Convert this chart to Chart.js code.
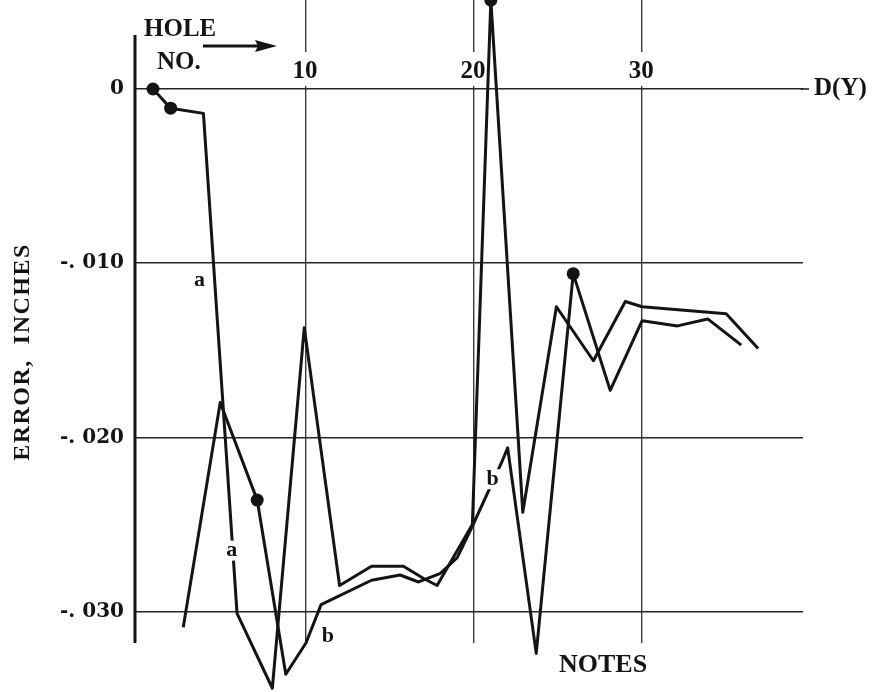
<!DOCTYPE html>
<html>
<head>
<meta charset="utf-8">
<script src="https://cdn.jsdelivr.net/npm/chart.js@4.4.1/dist/chart.umd.min.js"></script>
<style>
html,body{margin:0;padding:0;background:#fff;}
#wrap{width:872px;height:692px;position:relative;}
</style>
</head>
<body>
<div id="wrap"><canvas id="c" width="872" height="692"></canvas></div>
<script>
// ---- data ----
const holesA = [0.9, 1.95, 3.9, 5.9, 8.0, 9.9, 12.0, 13.9, 15.8, 17.0, 17.8, 19.9, 21.0, 22.9, 24.9, 27.1, 29.0, 30.0, 35.0, 36.9];
const errorA = [0, -0.0011, -0.0014, -0.0301, -0.0344, -0.0137, -0.0285, -0.0274, -0.0274, -0.0281, -0.0285, -0.0250, 0.0051, -0.0243, -0.0125, -0.0156, -0.0122, -0.0125, -0.0129, -0.0149];
const holesB = [2.7, 4.9, 7.1, 8.8, 10.0, 10.9, 13.9, 15.6, 16.7, 18.0, 19.0, 19.9, 21.7, 22.0, 23.7, 25.9, 28.1, 30.0, 32.1, 33.9, 35.9];
const errorB = [-0.0309, -0.0180, -0.0236, -0.0336, -0.0318, -0.0296, -0.0282, -0.0279, -0.0283, -0.0278, -0.0269, -0.0251, -0.0213, -0.0206, -0.0324, -0.0106, -0.0173, -0.0133, -0.0136, -0.0132, -0.0147];
const markedA = [0, 1, 12];
const markedB = [2, 15];
const xTicks = [10, 20, 30];
const xTickLabels = ['10', '20', '30'];
const yTicks = [0, -0.010, -0.020, -0.030];
const yTickLabels = ['0', '-. 010', '-. 020', '-. 030'];
const curveLabels = [
  {text: 'a', x: 3.67, y: -0.0110},
  {text: 'a', x: 5.58, y: -0.0265},
  {text: 'b', x: 11.3, y: -0.0314},
  {text: 'b', x: 21.1, y: -0.0224}
];

const INK = '#141414';
const SERIF_B = 'bold 25px "Liberation Serif", "DejaVu Serif", serif';

const decor = {
  id: 'decor',
  beforeDatasetsDraw(chart) {
    const ctx = chart.ctx, xs = chart.scales.x, ys = chart.scales.y, ca = chart.chartArea;
    ctx.save();
    // y axis line
    ctx.strokeStyle = INK; ctx.lineWidth = 3;
    ctx.beginPath();
    ctx.moveTo(ca.left + 1, ys.getPixelForValue(0.0031));
    ctx.lineTo(ca.left + 1, ca.bottom);
    ctx.stroke();
    // extend zero line to the D(Y) label
    const y0 = ys.getPixelForValue(0);
    ctx.lineWidth = 1.5;
    ctx.beginPath(); ctx.moveTo(ca.right - 2, y0); ctx.lineTo(ca.right + 6, y0); ctx.stroke();
    // x tick labels above the zero line, gridline broken behind them
    ctx.font = SERIF_B; ctx.fillStyle = INK; ctx.textAlign = 'center'; ctx.textBaseline = 'middle';
    xTicks.forEach((v, i) => {
      const px = xs.getPixelForValue(v);
      ctx.fillStyle = '#fff';
      ctx.fillRect(px - 4, 52, 8, 34);
      ctx.fillStyle = INK;
      ctx.fillText(xTickLabels[i], px - 1, 72);
    });
    // HOLE NO. with arrow
    ctx.textAlign = 'left';
    ctx.fillText('HOLE', 144, 30);
    ctx.fillText('NO.', 157, 63);
    ctx.lineWidth = 3;
    ctx.beginPath(); ctx.moveTo(203, 46); ctx.lineTo(262, 46); ctx.stroke();
    ctx.beginPath(); ctx.moveTo(277, 46); ctx.lineTo(255, 40); ctx.lineTo(258, 46); ctx.lineTo(255, 52); ctx.closePath(); ctx.fill();
    // D(Y) and NOTES
    ctx.fillText('D(Y)', 814, 89);
    ctx.font = 'bold 26px "Liberation Serif", "DejaVu Serif", serif';
    ctx.fillText('NOTES', 559, 665);
    // y title
    ctx.save();
    ctx.translate(23, 352);
    ctx.rotate(-Math.PI / 2);
    ctx.textAlign = 'center';
    ctx.font = 'bold 24px "Liberation Serif", "DejaVu Serif", serif';
    try { ctx.letterSpacing = '1.5px'; } catch (e) {}
    ctx.fillText('ERROR,  INCHES', 0, 0);
    ctx.restore();
    ctx.restore();
  },
  afterDatasetsDraw(chart) {
    const ctx = chart.ctx, xs = chart.scales.x, ys = chart.scales.y;
    ctx.save();
    ctx.font = 'bold 22px "Liberation Serif", "DejaVu Serif", serif';
    ctx.textAlign = 'center'; ctx.textBaseline = 'middle';
    curveLabels.forEach(l => {
      const px = xs.getPixelForValue(l.x), py = ys.getPixelForValue(l.y);
      const w = ctx.measureText(l.text).width;
      ctx.fillStyle = '#fff';
      ctx.fillRect(px - w / 2 - 2, py - 10, w + 4, 20);
      ctx.fillStyle = INK;
      ctx.fillText(l.text, px, py);
    });
    ctx.restore();
  }
};

function series(xs, ys) { return xs.map((x, i) => ({x: x, y: ys[i]})); }

new Chart(document.getElementById('c'), {
  type: 'line',
  data: {
    datasets: [
      {
        label: 'a',
        data: series(holesA, errorA),
        borderColor: INK, borderWidth: 3, tension: 0, clip: false, borderJoinStyle: 'round',
        pointRadius: c => markedA.includes(c.dataIndex) ? 6.5 : 0,
        pointBackgroundColor: INK, pointBorderWidth: 0, pointHoverRadius: 0
      },
      {
        label: 'b',
        data: series(holesB, errorB),
        borderColor: INK, borderWidth: 3, tension: 0, clip: false, borderJoinStyle: 'round',
        pointRadius: c => markedB.includes(c.dataIndex) ? 6.5 : 0,
        pointBackgroundColor: INK, pointBorderWidth: 0, pointHoverRadius: 0
      }
    ]
  },
  options: {
    responsive: false,
    animation: false,
    events: [],
    layout: {padding: {left: 0, right: 69, top: 0, bottom: 49}, autoPadding: false},
    plugins: {legend: {display: false}, tooltip: {enabled: false}},
    scales: {
      x: {
        type: 'linear', min: -0.23, max: 39.57,
        afterBuildTicks: s => { s.ticks = xTicks.map(v => ({value: v})); },
        afterFit: s => { s.height = 0; s.paddingLeft = 0; s.paddingRight = 0; },
        ticks: {display: false},
        grid: {color: '#3a3a3a', lineWidth: 1.4, drawTicks: false},
        border: {display: false}
      },
      y: {
        type: 'linear', min: -0.031803, max: 0.005109,
        afterBuildTicks: s => { s.ticks = yTicks.map(v => ({value: v})); },
        afterFit: s => { s.width = 134; s.paddingTop = 0; s.paddingBottom = 0; },
        ticks: {
          callback: (v, i) => yTickLabels[i],
          font: {family: '"DejaVu Serif", serif', size: 20, weight: 'bold'},
          color: INK, padding: 10
        },
        grid: {color: '#262626', lineWidth: 1.6, drawTicks: false},
        border: {display: false}
      }
    }
  },
  plugins: [decor]
});
</script>
</body>
</html>
